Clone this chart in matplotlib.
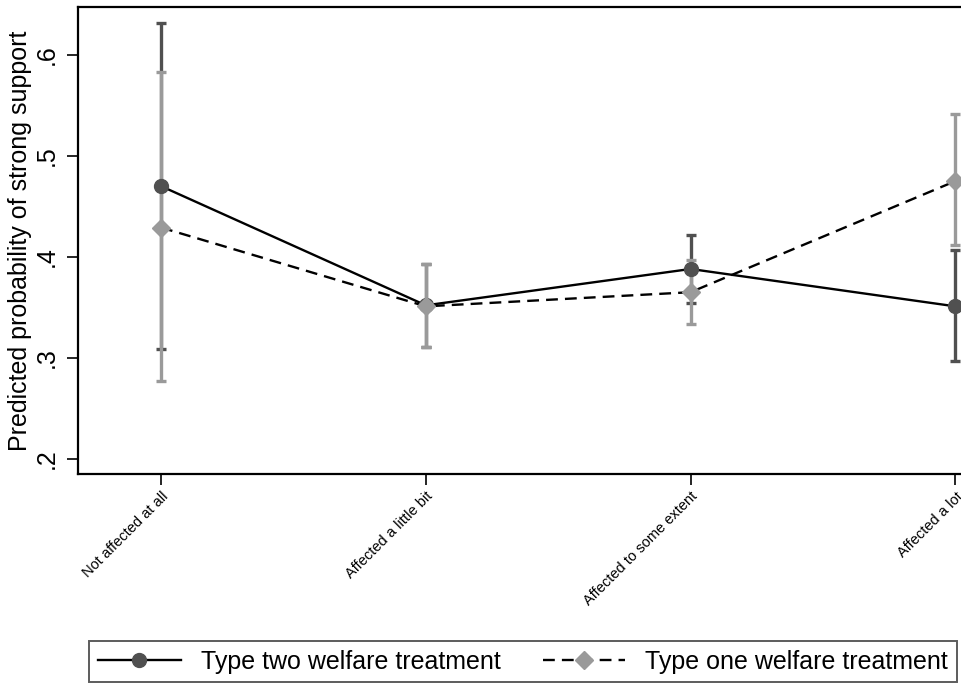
import numpy as np
import matplotlib.pyplot as plt
from matplotlib.lines import Line2D

plt.rcParams['font.family'] = ['Liberation Sans', 'DejaVu Sans']

categories = ['Not affected at all', 'Affected a little bit', 'Affected to some extent', 'Affected a lot']

# Type two welfare treatment
two_mean = [0.470, 0.352, 0.388, 0.351]
two_low = [0.309, 0.311, 0.354, 0.297]
two_high = [0.632, 0.393, 0.422, 0.407]

# Type one welfare treatment
one_mean = [0.429, 0.351, 0.365, 0.475]
one_low = [0.277, 0.311, 0.334, 0.412]
one_high = [0.583, 0.393, 0.397, 0.541]

yticks = [0.2, 0.3, 0.4, 0.5, 0.6]
ytick_labels = ['.2', '.3', '.4', '.5', '.6']

dark = '#505050'
light = '#9a9a9a'

fig = plt.figure(figsize=(9.62, 6.86), dpi=100)
ax = fig.add_axes([0.081, 0.309, 0.93, 0.681])

x = np.arange(1, len(categories) + 1)

def draw(mean, low, high, col, ls, mk, ms):
    m = np.array(mean)
    err = [m - np.array(low), np.array(high) - m]
    ax.errorbar(x, m, yerr=err, fmt='none', ecolor=col, elinewidth=2.4,
                capsize=3.4, capthick=2.4, zorder=2)
    ax.plot(x, m, color='black', ls=ls, lw=1.7, zorder=3)
    ax.plot(x, m, ls='none', marker=mk, ms=ms, color=col, mec=col, zorder=4)

draw(two_mean, two_low, two_high, dark, '-', 'o', 10)
draw(one_mean, one_low, one_high, light, (0, (5, 3)), 'D', 9.5)

ax.set_xlim(0.686, 4.065)
ax.set_ylim(0.185, 0.6475)
ax.set_xticks(x)
ax.set_xticklabels(categories, rotation=45, ha='right', rotation_mode='anchor', fontsize=10.5)
ax.set_yticks(yticks)
ax.set_yticklabels(ytick_labels, rotation=90, va='center', fontsize=18)
ax.tick_params(axis='both', length=8, width=1.2, color='black')
ax.tick_params(axis='x', pad=3)
ax.tick_params(axis='y', pad=6)
ax.set_ylabel('Predicted probability of strong support', fontsize=18, labelpad=2)
for s in ['left', 'bottom', 'top']:
    ax.spines[s].set_linewidth(1.6)
ax.spines['right'].set_visible(False)

handles = [
    Line2D([], [], color='black', lw=1.7, marker='o', ms=10, mfc=dark, mec=dark),
    Line2D([], [], color='black', lw=1.7, ls=(0, (5, 3)), marker='D', ms=9.5, mfc=light, mec=light),
]
leg = fig.legend(handles, ['Type two welfare treatment', 'Type one welfare treatment'],
                 loc='center', bbox_to_anchor=(0.5437, 0.0357),
                 ncol=2, fontsize=18, frameon=True, fancybox=False,
                 handlelength=3.3, handletextpad=0.8, columnspacing=1.7,
                 borderpad=0.35, borderaxespad=0)
leg.get_frame().set_edgecolor('#333333')
leg.get_frame().set_linewidth(1.4)

fig.savefig('out.png', dpi=100)
